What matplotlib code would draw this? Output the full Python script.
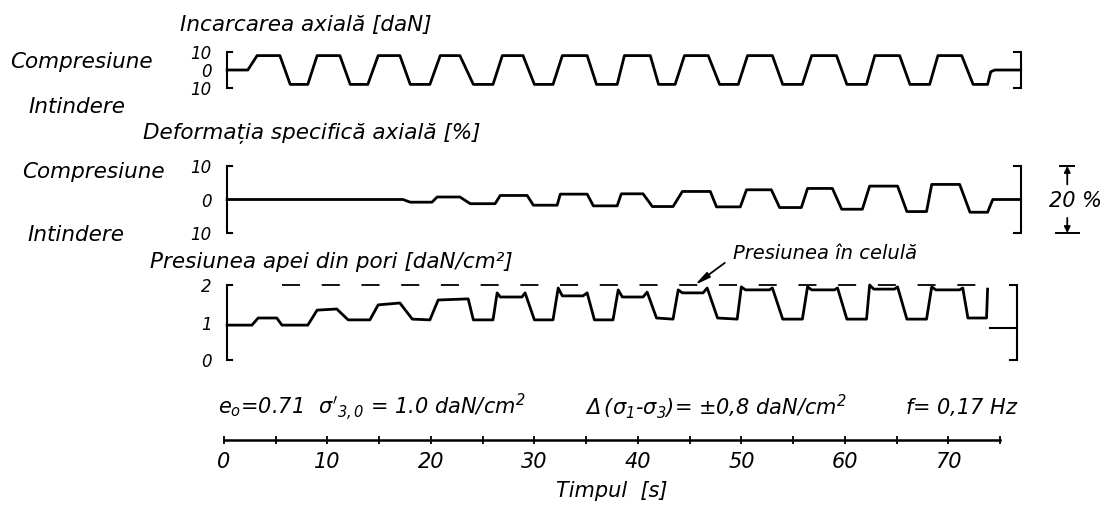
import matplotlib
matplotlib.use("Agg")
import matplotlib.pyplot as plt

plt.rcParams['font.family'] = ['DejaVu Sans']
plt.rcParams['font.style'] = 'oblique'
plt.rcParams['mathtext.fontset'] = 'dejavusans'
plt.rcParams['mathtext.default'] = 'it'

# ---------- Data (time in s) ----------
# axial load [daN], + compression / - tension
load_t = [0.3, 2.3, 3.2, 5.4, 6.4, 8.1, 9.0, 11.2, 12.2, 13.9, 14.9, 17.0, 18.0, 19.9,
          20.9, 22.8, 24.1, 26.0, 26.9, 28.9, 30.0, 31.8, 32.7, 35.1, 36.0, 38.0, 38.7,
          41.2, 42.0, 43.6, 44.5, 46.8, 47.9, 49.7, 50.6, 53.0, 54.0, 55.9, 56.8, 59.2,
          60.2, 62.1, 62.9, 65.3, 66.3, 68.2, 69.0, 71.3, 72.4, 73.8, 74.1, 74.5, 77.0]
load_v = [0, 0, 8, 8, -8, -8, 8, 8, -8, -8, 8, 8, -8, -8,
          8, 8, -8, -8, 8, 8, -8, -8, 8, 8, -8, -8, 8,
          8, -8, -8, 8, 8, -8, -8, 8, 8, -8, -8, 8, 8,
          -8, -8, 8, 8, -8, -8, 8, 8, -8, -8, -1, 0, 0]

# axial strain [%]
strain_t = [0.3, 17.3, 18.0, 20.1, 20.6, 22.8, 23.8, 26.2, 26.7, 29.3, 29.9, 32.2,
            32.5, 35.1, 35.7, 38.0, 38.4, 40.5, 41.4, 43.4, 44.3, 47.0, 47.6, 49.9,
            50.5, 52.9, 53.7, 55.8, 56.4, 58.8, 59.7, 61.7, 62.4, 65.1, 66.0, 67.9,
            68.4, 71.1, 72.1, 73.8, 74.3, 77.0]
strain_v = [0, 0, -0.8, -0.8, 0.75, 0.75, -1.25, -1.25, 1.2, 1.2, -1.7, -1.7,
            1.6, 1.6, -1.9, -1.9, 1.7, 1.7, -2.1, -2.1, 2.4, 2.4, -2.2, -2.2,
            2.9, 2.9, -2.4, -2.4, 3.3, 3.3, -2.9, -2.9, 4.0, 4.0, -3.6, -3.6,
            4.5, 4.5, -3.8, -3.8, 0, 0]

# pore water pressure [daN/cm2]
pore_t = [0.3, 2.7, 3.3, 5.1, 5.6, 8.1, 9.0, 10.9, 12.0, 14.1, 14.9, 17.0, 18.2, 19.9,
          20.7, 23.6, 24.1, 26.0, 26.4, 26.7, 28.8, 29.1, 30.0, 31.8, 32.3, 32.7, 34.7,
          35.1, 35.8, 37.6, 38.1, 38.5, 40.5, 40.9, 41.8, 43.4, 43.9, 44.3, 46.3, 46.7,
          47.7, 49.6, 50.0, 50.4, 52.7, 53.0, 54.0, 55.9, 56.4, 56.8, 59.0, 59.3, 60.2,
          62.1, 62.4, 62.8, 64.8, 65.1, 66.0, 67.9, 68.4, 68.8, 71.1, 71.4, 71.9, 73.7,
          73.8]
pore_v = [0.93, 0.93, 1.12, 1.12, 0.93, 0.93, 1.33, 1.36, 1.07, 1.07, 1.47, 1.52, 1.09, 1.07,
          1.60, 1.63, 1.07, 1.07, 1.79, 1.68, 1.68, 1.79, 1.07, 1.07, 1.92, 1.71, 1.71,
          1.79, 1.07, 1.07, 1.87, 1.68, 1.68, 1.81, 1.12, 1.09, 1.87, 1.79, 1.79, 1.92,
          1.12, 1.09, 1.95, 1.87, 1.87, 1.92, 1.09, 1.09, 1.95, 1.87, 1.87, 1.92, 1.09,
          1.09, 2.00, 1.89, 1.89, 1.95, 1.09, 1.09, 1.95, 1.87, 1.87, 1.92, 1.12, 1.12,
          1.89]
pore_end_t = [74.0, 76.6]
pore_end_v = [0.85, 0.85]

# cell pressure (dashed reference)
cell_t = [5.6, 74.0]
cell_v = [2.0, 2.0]

time_major = [0, 10, 20, 30, 40, 50, 60, 70]
time_minor = [5, 15, 25, 35, 45, 55, 65, 75]

W, H = 1111, 508
LW = 2.0


def box(x0, y0, x1, y1):
    """Axes rectangle from pixel edges measured from the top-left corner."""
    return [x0 / W, 1 - y1 / H, (x1 - x0) / W, (y1 - y0) / H]


def fxy(px, py):
    return px / W, 1 - py / H


def bracket(ax, x, lo, hi, dx):
    ax.plot([x + dx, x, x, x + dx], [lo, lo, hi, hi], color='black', lw=1.5,
            clip_on=False, solid_joinstyle='miter')


def strip_axes(ax, ylim, yticks, ylabels):
    ax.set_xlim(0, 75)
    ax.set_ylim(*ylim)
    for s in ax.spines.values():
        s.set_visible(False)
    ax.set_xticks([])
    ax.set_yticks(yticks)
    ax.set_yticklabels(ylabels)
    ax.tick_params(axis='y', length=0, pad=9, labelsize=12)
    ax.patch.set_alpha(0)


fig = plt.figure(figsize=(W / 100, H / 100), dpi=100)

# ---------- Axial load ----------
ax_load = fig.add_axes(box(224, 52, 1000, 88))
strip_axes(ax_load, (-10, 10), [-10, 0, 10], ['10', '0', '10'])
ax_load.plot(load_t, load_v, color='black', lw=LW, solid_joinstyle='round', clip_on=False)
bracket(ax_load, 0.3, -10, 10, 0.5)
bracket(ax_load, 77.0, -10, 10, -0.6)

# ---------- Axial strain ----------
ax_strain = fig.add_axes(box(224, 166, 1000, 233))
strip_axes(ax_strain, (-10, 10), [-10, 0, 10], ['10', '0', '10'])
ax_strain.plot(strain_t, strain_v, color='black', lw=LW, solid_joinstyle='round', clip_on=False)
bracket(ax_strain, 0.3, -10, 10, 0.5)
bracket(ax_strain, 77.0, -10, 10, -0.6)

# 20 % dimension mark
dim_x = 81.5
ax_strain.plot([dim_x - 0.7, dim_x + 0.7], [10, 10], color='black', lw=1.4, clip_on=False)
ax_strain.plot([dim_x - 1.1, dim_x + 1.1], [-10, -10], color='black', lw=1.4, clip_on=False)
for y0, y1 in [(4.5, 10), (-5.5, -10)]:
    ax_strain.annotate('', xy=(dim_x, y1), xytext=(dim_x, y0), annotation_clip=False,
                       arrowprops=dict(arrowstyle='-|>', color='black', lw=1.3,
                                       mutation_scale=9, shrinkA=0, shrinkB=0))
ax_strain.text(dim_x + 0.8, -0.5, '20 %', fontsize=15, ha='center', va='center', clip_on=False)

# ---------- Pore water pressure ----------
ax_pore = fig.add_axes(box(224, 285, 1000, 360))
strip_axes(ax_pore, (0, 2), [0, 1, 2], ['0', '1', '2'])
ax_pore.plot(pore_t, pore_v, color='black', lw=LW, solid_joinstyle='round', clip_on=False)
ax_pore.plot(pore_end_t, pore_end_v, color='black', lw=1.5, clip_on=False)
ax_pore.plot(cell_t, cell_v, color='black', lw=1.3, dashes=(10, 12), clip_on=False)
bracket(ax_pore, 0.3, 0, 2, 0.5)
bracket(ax_pore, 76.6, 0, 2, -0.6)
ax_pore.annotate('', xy=(45.5, 2.0), xytext=(48.4, 2.59), annotation_clip=False,
                 arrowprops=dict(arrowstyle='-|>,head_length=0.9,head_width=0.18',
                                 color='black', lw=1.3, shrinkA=0, shrinkB=0))
ax_pore.text(49.2, 2.85, 'Presiunea în celulă', fontsize=14, ha='left', va='center',
             clip_on=False)

# ---------- Time axis ----------
ax_time = fig.add_axes(box(224, 400, 1000, 440))
ax_time.set_xlim(0, 75)
ax_time.set_ylim(0, 1)
ax_time.patch.set_alpha(0)
for side in ['left', 'right', 'top']:
    ax_time.spines[side].set_visible(False)
ax_time.spines['bottom'].set_linewidth(1.8)
ax_time.spines['bottom'].set_bounds(0, 75)
ax_time.set_yticks([])
ax_time.set_xticks(time_major)
ax_time.set_xticklabels([str(v) for v in time_major])
ax_time.set_xticks(time_minor, minor=True)
ax_time.tick_params(axis='x', which='both', direction='inout', length=6, width=1.3,
                    labelsize=15, pad=6)
ax_time.set_xlabel('Timpul  [s]', fontsize=15, labelpad=6)

# ---------- Labels ----------
texts = [
    (180, 25, 'Incarcarea axială [daN]'),
    (10, 62, 'Compresiune'),
    (28, 107, 'Intindere'),
    (143, 133, 'Deformația specifică axială [%]'),
    (22, 172, 'Compresiune'),
    (27, 235, 'Intindere'),
    (150, 262, 'Presiunea apei din pori [daN/cm²]'),
]
for px, py, s in texts:
    x, y = fxy(px, py)
    fig.text(x, y, s, fontsize=15.5, ha='left', va='center')

params = [
    (218, r'$e_o$=0.71'),
    (318, r"$\sigma'_{3,0}$ = 1.0 daN/cm$^2$"),
    (585, r'$\Delta\,(\sigma_1$-$\sigma_3)$= $\pm$0,8 daN/cm$^2$'),
    (905, r'$f$= 0,17 Hz'),
]
for px, s in params:
    x, y = fxy(px, 407)
    fig.text(x, y, s, fontsize=15, ha='left', va='center')

fig.savefig('out.png', dpi=100)
